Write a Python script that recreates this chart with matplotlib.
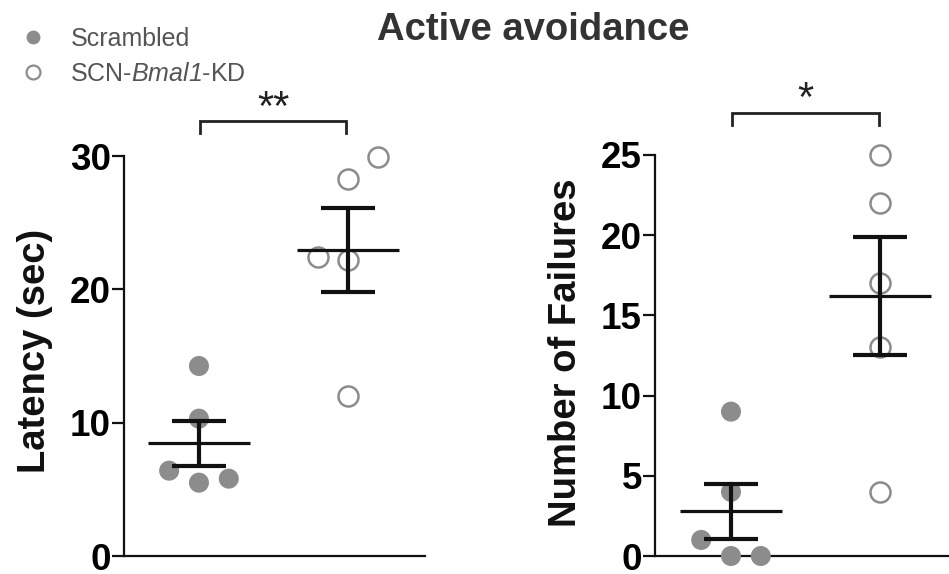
import numpy as np
import matplotlib
matplotlib.use("Agg")
import matplotlib.pyplot as plt
from matplotlib.lines import Line2D

plt.rcParams['font.family'] = ['Liberation Sans', 'DejaVu Sans']
plt.rcParams['mathtext.fontset'] = 'custom'
plt.rcParams['mathtext.rm'] = 'Liberation Sans:italic'
plt.rcParams['mathtext.it'] = 'Liberation Sans:italic'

# ---- data ----
groups = ["Scrambled", "SCN-Bmal1-KD"]
latency_scr = [14.25, 10.3, 6.4, 5.5, 5.8]
latency_scr_x = [1.0, 1.0, 0.8, 1.0, 1.2]
latency_kd = [29.9, 28.25, 22.4, 22.2, 12.0]
latency_kd_x = [2.2, 2.0, 1.8, 2.0, 2.0]
fail_scr = [9, 4, 1, 0, 0]
fail_scr_x = [1.0, 1.0, 0.8, 1.0, 1.2]
fail_kd = [25, 22, 17, 13, 4]
fail_kd_x = [2.0, 2.0, 2.0, 2.0, 2.0]
latency_ticks = [0, 10, 20, 30]
fail_ticks = [0, 5, 10, 15, 20, 25]

GRAY = '#8c8c8c'

fig = plt.figure(figsize=(9.49, 5.74), dpi=100)
W, H = 949, 574

def px_axes(l, r, t, b):
    return fig.add_axes([l / W, 1 - b / H, (r - l) / W, (b - t) / H])

ax1 = px_axes(124, 425, 156, 556)
ax2 = px_axes(655, 949, 155, 556)


def mean_sem(v):
    v = np.asarray(v, float)
    return v.mean(), v.std(ddof=1) / np.sqrt(len(v))


def draw(ax, scr, scr_x, kd, kd_x, ylim, ticks, xlim, ylabel):
    ax.scatter(scr_x, scr, s=20 ** 2 * 0.52, color=GRAY, edgecolor='none', zorder=3, clip_on=False)
    ax.scatter(kd_x, kd, s=20 ** 2 * 0.52, facecolor='white', edgecolor=GRAY, linewidth=1.8, zorder=3, clip_on=False)
    for xpos, vals in ((1, scr), (2, kd)):
        m, s = mean_sem(vals)
        ax.hlines(m, xpos - 0.343, xpos + 0.343, color='#111111', linewidth=2.3, zorder=4)
        ax.errorbar([xpos], [m], yerr=[s], fmt='none', ecolor='#111111', elinewidth=3.0,
                    capsize=19.5, capthick=3.0, zorder=4)
    ax.set_ylim(*ylim)
    ax.set_xlim(*xlim)
    ax.set_yticks(ticks)
    ax.set_xticks([])
    for sp in ('top', 'right'):
        ax.spines[sp].set_visible(False)
    for sp in ('left', 'bottom'):
        ax.spines[sp].set_linewidth(1.6)
        ax.spines[sp].set_color('#111111')
    ax.tick_params(axis='y', length=8.5, width=1.6, pad=1, labelsize=26.5, color='#111111')
    for lab in ax.get_yticklabels():
        lab.set_fontweight('bold')
    ax.set_ylabel(ylabel, fontsize=27.5, fontweight='bold', color='#111111')


draw(ax1, latency_scr, latency_scr_x, latency_kd, latency_kd_x, (0, 30), latency_ticks,
     (0.497, 2.517), "Latency (sec)")
draw(ax2, fail_scr, fail_scr_x, fail_kd, fail_kd_x, (0, 25), fail_ticks,
     (0.49, 2.463), "Number of Failures")
ax1.yaxis.set_label_coords(-0.235, 0.513)
ax2.yaxis.set_label_coords(-0.24, 0.507)

# significance brackets
def bracket(ax, x1, x2, y, drop, text, ty, fs):
    ax.plot([x1, x1, x2, x2], [y - drop, y, y, y - drop], color='#222222', lw=2.0, clip_on=False,
            solid_joinstyle='miter')
    ax.text((x1 + x2) / 2, ty, text, ha='center', va='center', fontsize=fs, color='#222222')

bracket(ax1, 1.007, 1.987, 32.65, 0.95, "**", 33.5, 30)
bracket(ax2, 1.01, 1.99, 27.64, 0.78, "*", 28.45, 30)

fig.text(533 / W, 1 - 30 / H, "Active avoidance", ha='center', va='center', fontsize=27.5,
         fontweight='bold', color='#333333')

handles = [Line2D([], [], marker='o', linestyle='none', markersize=10, color=GRAY, markeredgecolor='none'),
           Line2D([], [], marker='o', linestyle='none', markersize=10, markerfacecolor='white',
                  markeredgecolor=GRAY, markeredgewidth=1.6)]
fig.legend(handles, ["Scrambled", "SCN-$\\mathrm{Bmal1}$-KD"], loc='upper left',
           bbox_to_anchor=(8 / W, 1 - 14 / H), frameon=False, fontsize=18, handlelength=1.0,
           handletextpad=1.0, labelspacing=0.45, borderpad=0, labelcolor='#555555')

fig.savefig("out.png", dpi=100)
